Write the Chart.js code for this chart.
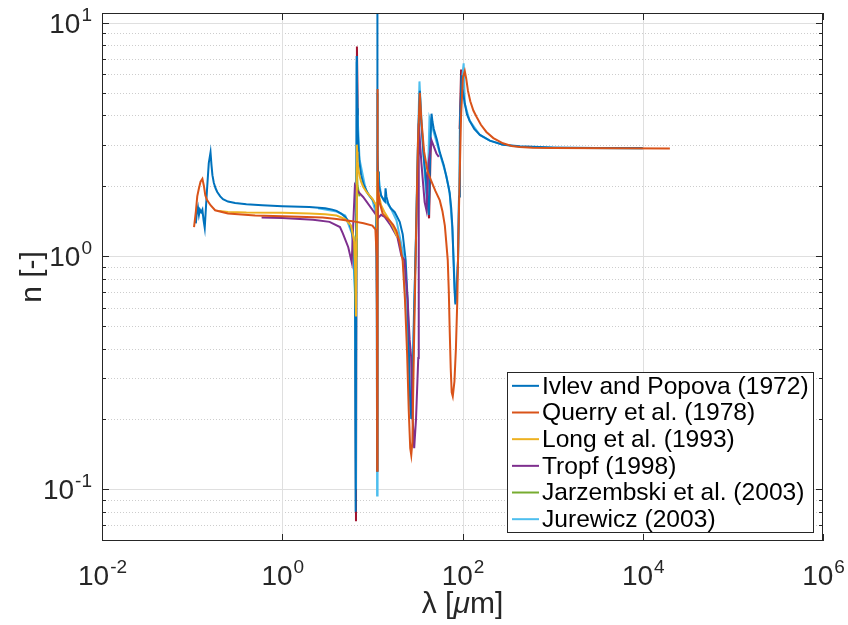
<!DOCTYPE html>
<html>
<head>
<meta charset="utf-8">
<script src="https://cdn.jsdelivr.net/npm/chart.js@4.4.1/dist/chart.umd.min.js"></script>
<style>
  html, body { margin: 0; padding: 0; background: #fff; }
</style>
</head>
<body>
<canvas id="n-chart" width="848" height="625"></canvas>
<script>
// [wavelength um, n]
var ivlev = [
  [0.110, 1.38], [0.113, 1.55], [0.116, 1.62], [0.119, 1.50], [0.122, 1.58], [0.126, 1.54],
  [0.130, 1.58], [0.134, 1.42], [0.138, 1.32], [0.146, 1.90], [0.153, 2.50], [0.160, 2.78],
  [0.164, 2.45], [0.168, 2.22], [0.174, 2.06], [0.182, 1.95], [0.19, 1.88], [0.205, 1.80],
  [0.22, 1.75], [0.25, 1.71], [0.3, 1.685], [0.4, 1.665], [0.6, 1.65], [1.0, 1.635], [2.0, 1.62],
  [3.0, 1.60], [3.6, 1.58], [4.0, 1.56], [4.5, 1.52], [5.0, 1.47], [5.5, 1.40], [5.9, 1.28],
  [6.15, 1.15], [6.3, 1.00], [6.42, 0.72], [6.5, 0.40], [6.56, 0.08], [6.70, 7.2], [6.74, 5.6],
  [6.80, 4.3], [6.88, 3.5], [7.0, 2.95], [7.2, 2.5], [7.5, 2.22], [8.0, 2.02], [9.0, 1.84],
  [10.0, 1.75], [10.7, 1.67], [11.0, 1.58], [11.15, 1.40], [11.24, 0.6], [11.28, 0.12],
  [11.33, 14], [11.42, 2.8], [11.55, 2.3], [11.8, 2.0], [12.5, 1.82], [13.4, 1.73], [13.8, 1.71],
  [14.0, 1.95], [14.3, 1.80], [15.0, 1.68], [16, 1.60], [17.7, 1.54], [20.1, 1.40], [21.7, 1.24],
  [23.4, 0.96], [24.6, 0.65], [25.4, 0.40], [25.9, 0.28], [26.5, 0.22], [27.2, 0.20], [28, 0.28],
  [28.9, 0.55], [30.5, 1.2], [32.1, 3.0], [33.6, 5.1], [34.5, 4.0], [35.5, 3.4], [37, 2.7],
  [38.5, 2.3], [40.5, 1.8], [42.3, 1.5], [44, 3.0], [45.3, 4.07], [46.5, 3.75], [48, 3.5],
  [52, 3.15], [56, 2.78], [62, 2.45], [66.3, 2.18], [70, 1.98], [72.1, 1.86], [75, 1.6],
  [77.2, 1.33], [79.5, 0.96], [81.5, 0.72], [83.4, 0.62], [86, 0.70], [89.2, 0.96], [91.5, 1.8],
  [93.6, 3.57], [97.6, 5.95], [100, 5.2], [106, 4.5], [112, 4.05], [120, 3.8], [135, 3.5],
  [156, 3.3], [201, 3.12], [280, 3.0], [432, 2.95], [1000, 2.92], [3000, 2.9], [10000, 2.9]
];
var querry = [
  [0.105, 1.33], [0.110, 1.55], [0.114, 1.80], [0.119, 1.95], [0.124, 2.08], [0.130, 2.14],
  [0.135, 2.0], [0.140, 1.82], [0.146, 1.74], [0.160, 1.65], [0.18, 1.57], [0.25, 1.52],
  [0.5, 1.49], [1.0, 1.48], [2.8, 1.46], [4.0, 1.44], [6.0, 1.41], [8.0, 1.38], [10.0, 1.35],
  [10.8, 1.30], [11.15, 1.0], [11.25, 0.5], [11.30, 0.12], [11.36, 5.2], [11.42, 3.0], [11.5, 2.2],
  [11.7, 1.85], [12.0, 1.7], [13.0, 1.52], [14.0, 1.47], [15.5, 1.42], [17, 1.36], [18.5, 1.28],
  [20, 1.15], [21.7, 0.95], [23, 0.65], [24.3, 0.38], [25.3, 0.22], [26.3, 0.15], [27, 0.14],
  [27.8, 0.16], [28.9, 0.4], [30.5, 1.2], [32, 3.0], [33.6, 5.0], [34.2, 4.4], [35, 3.8],
  [37.5, 2.8], [41, 2.3], [45, 2.1], [50, 1.9], [56, 1.73], [60, 1.55], [63.7, 1.35], [66, 1.15],
  [68.6, 0.96], [70.5, 0.7], [72.1, 0.48], [74, 0.33], [75.9, 0.26], [78, 0.25], [81.4, 0.29],
  [84.5, 0.40], [87.6, 0.65], [90, 1.2], [92, 1.8], [96.4, 4.0], [101, 5.8], [106, 6.2],
  [110, 5.75], [115, 5.1], [122, 4.6], [132, 4.2], [143, 3.95], [160, 3.65], [184, 3.4],
  [220, 3.2], [281, 3.04], [350, 2.96], [432, 2.93], [600, 2.91], [1000, 2.9], [20000, 2.89]
];
var long93 = [
  [0.20, 1.56], [0.25, 1.545], [0.4, 1.535], [1.0, 1.53], [2.0, 1.52], [3.0, 1.51], [4.0, 1.49],
  [5.0, 1.44], [5.8, 1.35], [6.3, 1.15], [6.5, 0.8], [6.58, 0.55], [6.65, 1.2], [6.72, 3.0],
  [6.78, 2.8], [6.85, 2.55], [7.0, 2.35], [7.2, 2.2], [7.5, 2.08], [7.9, 1.98], [8.6, 1.88],
  [10.1, 1.75], [11.0, 1.65], [11.25, 1.3], [11.35, 2.3], [11.5, 1.9], [12.5, 1.65], [13.5, 1.55],
  [15, 1.45], [17, 1.33], [19, 1.2]
];
var tropf = [
  [0.59, 1.46], [1.0, 1.455], [2.2, 1.43], [3.35, 1.40], [4.37, 1.33], [4.7, 1.25], [5.4, 1.09],
  [5.9, 0.94], [6.1, 1.3], [6.4, 2.0], [6.6, 1.95], [7.0, 1.88], [7.9, 1.79], [10.1, 1.57],
  [11.0, 1.50], [11.3, 1.7], [11.5, 1.45], [12.5, 1.50], [13.7, 1.47], [16, 1.35], [19, 1.2],
  [21, 1.0], [22.7, 0.96], [24.6, 0.65], [25.9, 0.44], [26.9, 0.37], [28, 0.2], [29.1, 0.15],
  [30.5, 0.2], [32.3, 0.365], [32.7, 3.7], [35, 2.5], [38, 1.7], [39.8, 1.57], [42, 2.5],
  [45.3, 3.13], [51.4, 2.75], [54.6, 2.66]
];
var jarzembski = [
  [5.8, 1.35], [6.2, 1.2], [6.45, 0.9], [6.55, 0.6], [6.62, 1.0], [6.7, 2.4], [6.85, 2.0], [7.2, 1.8]
];
var jurewicz = [
  [2.5, 1.6], [4, 1.55], [5, 1.49], [6, 1.23], [6.45, 0.65], [6.58, 0.1], [6.7, 6.8], [6.85, 4],
  [7.2, 2.6], [8.5, 1.9], [10, 1.74], [11.1, 1.48], [11.22, 0.7], [11.28, 0.094], [11.34, 5.0],
  [11.5, 2.4], [12.5, 1.8], [14, 1.72], [16, 1.6], [18.5, 1.42], [21.7, 1.05], [24.6, 0.45],
  [26.9, 0.2], [28.9, 0.5], [30.5, 1.3], [32.1, 3.2], [33.3, 5.6], [35.5, 3.5], [38, 2.3],
  [40.5, 1.6], [43, 3.9], [46.8, 3.5], [56, 2.75], [66.3, 2.2], [72.1, 1.85], [77.2, 1.3],
  [83.4, 0.63], [89.2, 0.95], [93.6, 3.4], [99, 5.8], [103, 6.7], [106, 4.5], [120, 3.8],
  [156, 3.3], [201, 3.12], [281, 3.0], [432, 2.94], [1000, 2.91], [10000, 2.89]
];
// extra unlabelled trace, only its tips show (null = break)
var extraTrace = [
  [6.50, 0.40], [6.58, 0.073], [6.66, 1.5], [6.74, 7.9], [6.90, 4.0], [7.0, null],
  [39, 2.3], [42.6, 1.45], [44.5, 3.0], [45, null],
  [93, 3.5], [96.5, 6.3], [99, 5.0]
];

var xTicks = [1e-2, 1e0, 1e2, 1e4, 1e6];
var yTicks = [0.1, 1, 10];
var yMinor = [0.07, 0.08, 0.09, 0.2, 0.3, 0.4, 0.5, 0.6, 0.7, 0.8, 0.9,
  2, 3, 4, 5, 6, 7, 8, 9];

var FONT = '"Liberation Sans", Arial, Helvetica, sans-serif';
var INK = '#262626';

function toPoints(pairs) {
  return pairs.map(function (p) { return { x: p[0], y: p[1] }; });
}

function series(label, pairs, color, order) {
  return {
    label: label,
    data: toPoints(pairs),
    borderColor: color,
    backgroundColor: color,
    borderWidth: 2,
    pointRadius: 0,
    tension: 0,
    fill: false,
    spanGaps: false,
    order: order
  };
}

function line(ctx, x1, y1, x2, y2) {
  ctx.beginPath();
  ctx.moveTo(x1, y1);
  ctx.lineTo(x2, y2);
  ctx.stroke();
}

// "10" with a raised exponent, yMid = middle of the digits
function drawPower(ctx, v, x, yMid, align) {
  var exp = String(Math.round(Math.log10(v)));
  var base = '28px ' + FONT, sup = '19px ' + FONT;
  ctx.font = base;
  var wb = ctx.measureText('10').width;
  ctx.font = sup;
  var we = ctx.measureText(exp).width;
  var x0 = align === 'right' ? x - wb - we : x - (wb + we) / 2;
  var baseline = yMid + 10;
  ctx.textAlign = 'left';
  ctx.textBaseline = 'alphabetic';
  ctx.font = base;
  ctx.fillText('10', x0, baseline);
  ctx.font = sup;
  ctx.fillText(exp, x0 + wb + 1, baseline - 12);
}

var matlabAxes = {
  id: 'matlabAxes',
  beforeDatasetsDraw: function (chart) {
    var ctx = chart.ctx, a = chart.chartArea;
    var xs = chart.scales.x, ys = chart.scales.y;
    ctx.save();
    ctx.lineWidth = 1;
    ctx.strokeStyle = '#cdcdcd';
    ctx.setLineDash([1, 2]);
    yMinor.forEach(function (v) {
      var py = Math.round(ys.getPixelForValue(v)) + 0.5;
      line(ctx, a.left, py, a.right, py);
    });
    ctx.setLineDash([]);
    ctx.strokeStyle = '#dfdfdf';
    yTicks.forEach(function (v) {
      var py = Math.round(ys.getPixelForValue(v)) + 0.5;
      line(ctx, a.left, py, a.right, py);
    });
    xTicks.slice(1, -1).forEach(function (v) {
      var px = Math.round(xs.getPixelForValue(v)) + 0.5;
      line(ctx, px, a.top, px, a.bottom);
    });
    ctx.restore();
  },
  afterDatasetsDraw: function (chart) {
    var ctx = chart.ctx, a = chart.chartArea;
    var xs = chart.scales.x, ys = chart.scales.y;
    ctx.save();

    // box and inward ticks
    ctx.strokeStyle = INK;
    ctx.lineWidth = 1;
    ctx.strokeRect(a.left + 0.5, a.top + 0.5, a.right - a.left - 1, a.bottom - a.top - 1);
    xTicks.forEach(function (v) {
      var px = Math.round(xs.getPixelForValue(v)) + 0.5;
      line(ctx, px, a.bottom, px, a.bottom - 7);
      line(ctx, px, a.top, px, a.top + 7);
    });
    yTicks.forEach(function (v) {
      var py = Math.round(ys.getPixelForValue(v)) + 0.5;
      line(ctx, a.left, py, a.left + 7, py);
      line(ctx, a.right, py, a.right - 7, py);
    });
    yMinor.forEach(function (v) {
      var py = Math.round(ys.getPixelForValue(v)) + 0.5;
      line(ctx, a.left, py, a.left + 4, py);
      line(ctx, a.right, py, a.right - 4, py);
    });

    // tick labels
    ctx.fillStyle = INK;
    xTicks.forEach(function (v) {
      drawPower(ctx, v, xs.getPixelForValue(v), 575, 'center');
    });
    yTicks.forEach(function (v) {
      drawPower(ctx, v, 91, ys.getPixelForValue(v), 'right');
    });

    // axis titles
    ctx.font = '30px ' + FONT;
    ctx.textAlign = 'center';
    ctx.textBaseline = 'middle';
    ctx.save();
    ctx.translate(33, (a.top + a.bottom) / 2);
    ctx.rotate(-Math.PI / 2);
    ctx.fillText('n [-]', 0, 0);
    ctx.restore();

    var parts = [['λ [', '30px '], ['μ', 'italic 30px '], ['m]', '30px ']];
    var total = 0;
    parts.forEach(function (p) { ctx.font = p[1] + FONT; total += ctx.measureText(p[0]).width; });
    var tx = (a.left + a.right) / 2 - total / 2;
    ctx.textAlign = 'left';
    ctx.textBaseline = 'alphabetic';
    parts.forEach(function (p) {
      ctx.font = p[1] + FONT;
      ctx.fillText(p[0], tx, 613);
      tx += ctx.measureText(p[0]).width;
    });

    // legend
    var lx = 507, ly = 372, lw = 306, lh = 160, row = 26.67;
    ctx.fillStyle = '#ffffff';
    ctx.fillRect(lx, ly, lw, lh);
    ctx.strokeStyle = INK;
    ctx.strokeRect(lx + 0.5, ly + 0.5, lw, lh);
    ctx.font = '24.6px ' + FONT;
    ctx.textBaseline = 'middle';
    var i = 0;
    chart.data.datasets.forEach(function (ds) {
      if (!ds.label) return;
      var cy = ly + row / 2 + 0.5 + i * row;
      ctx.strokeStyle = ds.borderColor;
      ctx.lineWidth = 2;
      line(ctx, lx + 5, cy, lx + 32, cy);
      ctx.fillStyle = '#000000';
      ctx.fillText(ds.label, lx + 35, cy + 1);
      i++;
    });
    ctx.restore();
  }
};

new Chart(document.getElementById('n-chart'), {
  type: 'line',
  data: {
    datasets: [
      series('Ivlev and Popova (1972)', ivlev, '#0072BD', 5),
      series('Querry et al. (1978)', querry, '#D95319', 1),
      series('Long et al. (1993)', long93, '#EDB120', 2),
      series('Tropf (1998)', tropf, '#7E2F8E', 3),
      series('Jarzembski et al. (2003)', jarzembski, '#77AC30', 4),
      series('Jurewicz (2003)', jurewicz, '#4DBEEE', 6),
      series('', extraTrace, '#A2142F', 7)
    ]
  },
  options: {
    responsive: false,
    animation: false,
    layout: { padding: { top: 13, right: 25, bottom: 0, left: 0 } },
    plugins: {
      legend: { display: false },
      tooltip: { enabled: false }
    },
    scales: {
      x: {
        type: 'logarithmic',
        min: 1e-2,
        max: 1e6,
        grid: { display: false },
        border: { display: false },
        ticks: { display: false },
        afterBuildTicks: function (scale) {
          scale.ticks = xTicks.map(function (v) { return { value: v }; });
        },
        afterFit: function (scale) { scale.height = 84; }
      },
      y: {
        type: 'logarithmic',
        min: 0.06,
        max: 11,
        grid: { display: false },
        border: { display: false },
        ticks: { display: false },
        afterBuildTicks: function (scale) {
          scale.ticks = yTicks.map(function (v) { return { value: v }; });
        },
        afterFit: function (scale) { scale.width = 102; }
      }
    }
  },
  plugins: [matlabAxes]
});
</script>
</body>
</html>
